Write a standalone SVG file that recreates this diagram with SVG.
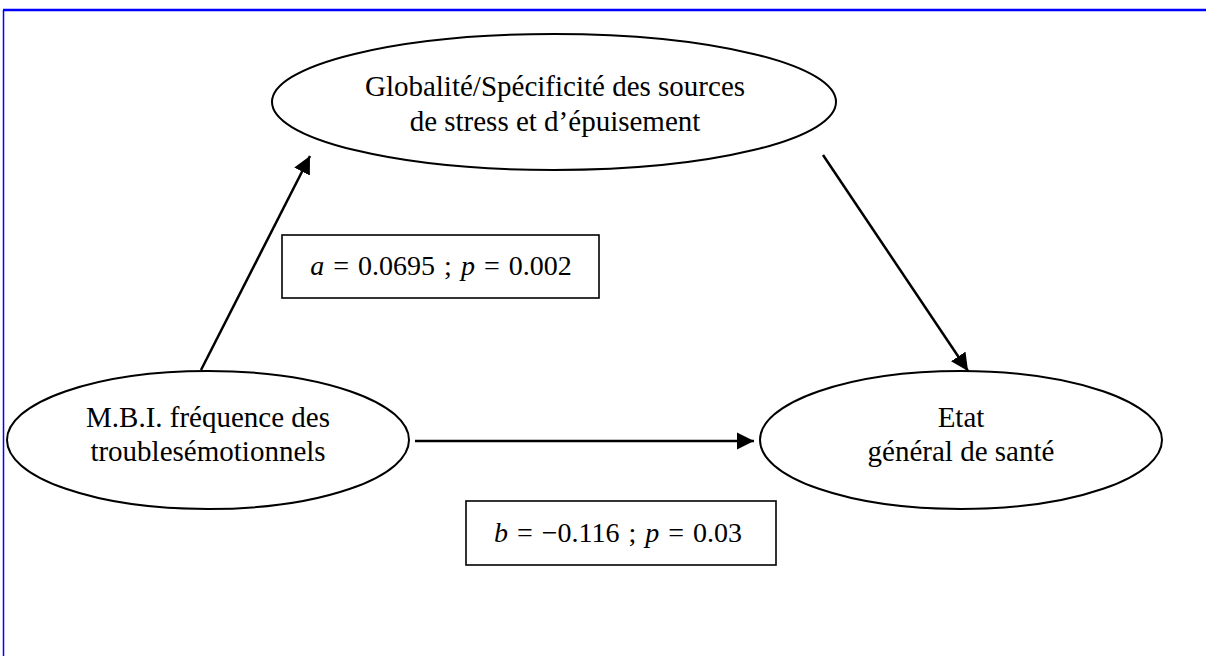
<svg xmlns="http://www.w3.org/2000/svg" width="1206" height="656" viewBox="0 0 1206 656">
<defs>
<marker id="ah" viewBox="0 0 10 10" refX="10" refY="5" markerWidth="7" markerHeight="7" markerUnits="strokeWidth" orient="auto">
<path d="M0,0 L10,5 L0,10 z" fill="#000"/>
</marker>
<style>
.node{fill:#fff;stroke:#000;stroke-width:2}
.t{font-family:"Liberation Serif","Times New Roman",serif;font-size:29px;fill:#000;text-anchor:middle}
.m{font-family:"Liberation Serif","Times New Roman",serif;font-size:28px;fill:#000;text-anchor:middle;word-spacing:2px}
.box{fill:#fff;stroke:#000;stroke-width:1.6}
.c{stroke:#000;stroke-width:2.5;fill:none}
</style>
</defs>
<rect width="1206" height="656" fill="#fff"/>
<g id="frame">
<line x1="3" y1="10" x2="1206" y2="10" stroke="#0000ff" stroke-width="2.5"/>
<line x1="3.5" y1="10" x2="3.5" y2="656" stroke="#0000ff" stroke-width="1.5"/>
</g>
<g id="node-global">
<ellipse class="node" cx="554" cy="102" rx="282" ry="68"/>
<text class="t" x="555" y="96">Globalité/Spécificité des sources</text>
<text class="t" x="555" y="131">de stress et d’épuisement</text>
</g>
<g id="node-mbi">
<ellipse class="node" cx="208" cy="440" rx="201" ry="69"/>
<text class="t" x="208" y="427">M.B.I. fréquence des</text>
<text class="t" x="208" y="461">troublesémotionnels</text>
</g>
<g id="node-etat">
<ellipse class="node" cx="961" cy="440" rx="201" ry="69"/>
<text class="t" x="961" y="427">Etat</text>
<text class="t" x="961" y="461">général de santé</text>
</g>
<g id="connectors">
<line class="c" x1="201" y1="370" x2="310" y2="156" marker-end="url(#ah)"/>
<line class="c" x1="823" y1="155" x2="968" y2="371" marker-end="url(#ah)"/>
<line class="c" x1="415" y1="441" x2="754" y2="441" marker-end="url(#ah)"/>
</g>
<g id="label-a">
<rect class="box" x="282" y="235" width="317" height="63"/>
<text class="m" x="441" y="275"><tspan font-style="italic">a</tspan> = 0.0695 ; <tspan font-style="italic">p</tspan> = 0.002</text>
</g>
<g id="label-b">
<rect class="box" x="466" y="501" width="310" height="64"/>
<text class="m" x="618" y="542"><tspan font-style="italic">b</tspan> = −0.116 ; <tspan font-style="italic">p</tspan> = 0.03</text>
</g>
</svg>
